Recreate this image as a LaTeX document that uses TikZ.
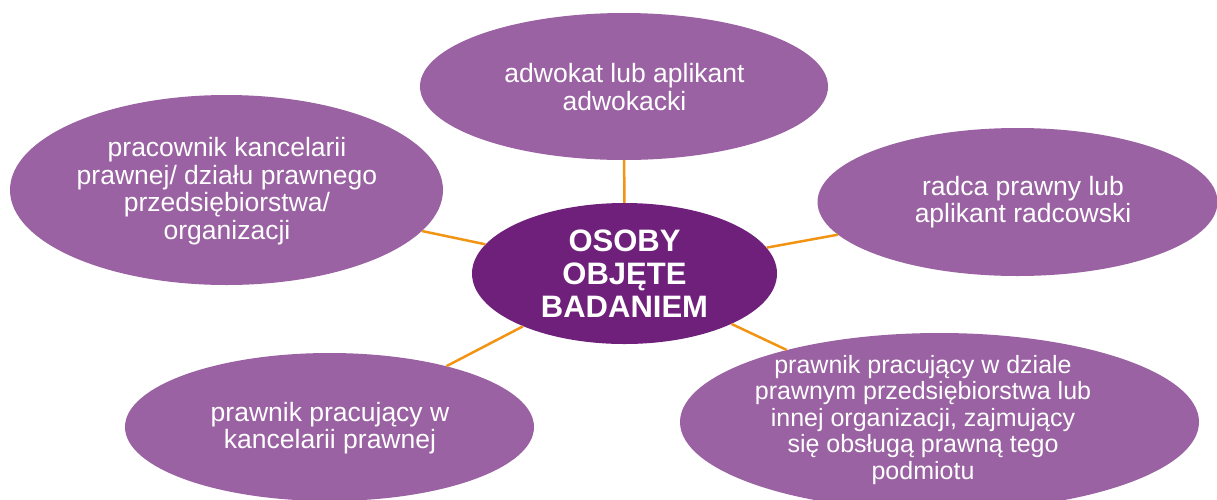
\documentclass[tikz,border=0pt]{standalone}
\usepackage{fontspec}
\setmainfont{Liberation Sans}
\usetikzlibrary{shapes.geometric}
\definecolor{lightpurple}{RGB}{154,98,162}
\definecolor{darkpurple}{RGB}{110,32,123}
\definecolor{linkorange}{RGB}{241,148,20}
\tikzset{
  outer/.style={ellipse, fill=lightpurple, draw=none, inner sep=0pt},
  hub/.style={ellipse, fill=darkpurple, draw=none, inner sep=0pt},
  txt/.style={text=white, align=center, inner sep=0pt, font=\fontsize{26.5}{27.7}\selectfont},
  hubtxt/.style={text=white, align=center, inner sep=0pt, font=\fontsize{31}{33}\selectfont\bfseries},
  link/.style={draw=linkorange, line width=2.5pt}
}
\begin{document}
\begin{tikzpicture}[x=1pt,y=-1pt]
\useasboundingbox (0,0) rectangle (1217,499);
% ellipses
\node[outer, minimum width=408pt, minimum height=147pt] (top) at (624,86.5) {};
\node[outer, minimum width=433pt, minimum height=190pt] (left) at (226.5,190) {};
\node[outer, minimum width=400pt, minimum height=148pt] (right) at (1017.5,202) {};
\node[outer, minimum width=409pt, minimum height=148pt] (bl) at (329.5,427) {};
\node[outer, minimum width=519pt, minimum height=178pt] (br) at (939.5,422) {};
\node[hub, minimum width=305pt, minimum height=141pt] (hub) at (624.5,273.5) {};
% connectors
\draw[link] (hub) -- (top);
\draw[link] (hub) -- (left);
\draw[link] (hub) -- (right);
\draw[link] (hub) -- (bl);
\draw[link] (hub) -- (br);
% texts
\node[txt] (toptxt) at (624.5,87) {adwokat lub aplikant\\adwokacki};
\node[txt] (lefttxt) at (227,191) {pracownik kancelarii\\prawnej/ działu prawnego\\przedsiębiorstwa/\\organizacji};
\node[txt] (righttxt) at (1023,202) {radca prawny lub\\aplikant radcowski};
\node[txt] (bltxt) at (330,428) {prawnik pracujący w\\kancelarii prawnej};
\node[txt, font=\fontsize{25}{26.5}\selectfont] (brtxt) at (923,420) {prawnik pracujący w dziale\\prawnym przedsiębiorstwa lub\\innej organizacji, zajmujący\\się obsługą prawną tego\\podmiotu};
\node[hubtxt] (hubtxt) at (624.5,274) {OSOBY\\OBJĘTE\\BADANIEM};
\end{tikzpicture}
\end{document}
